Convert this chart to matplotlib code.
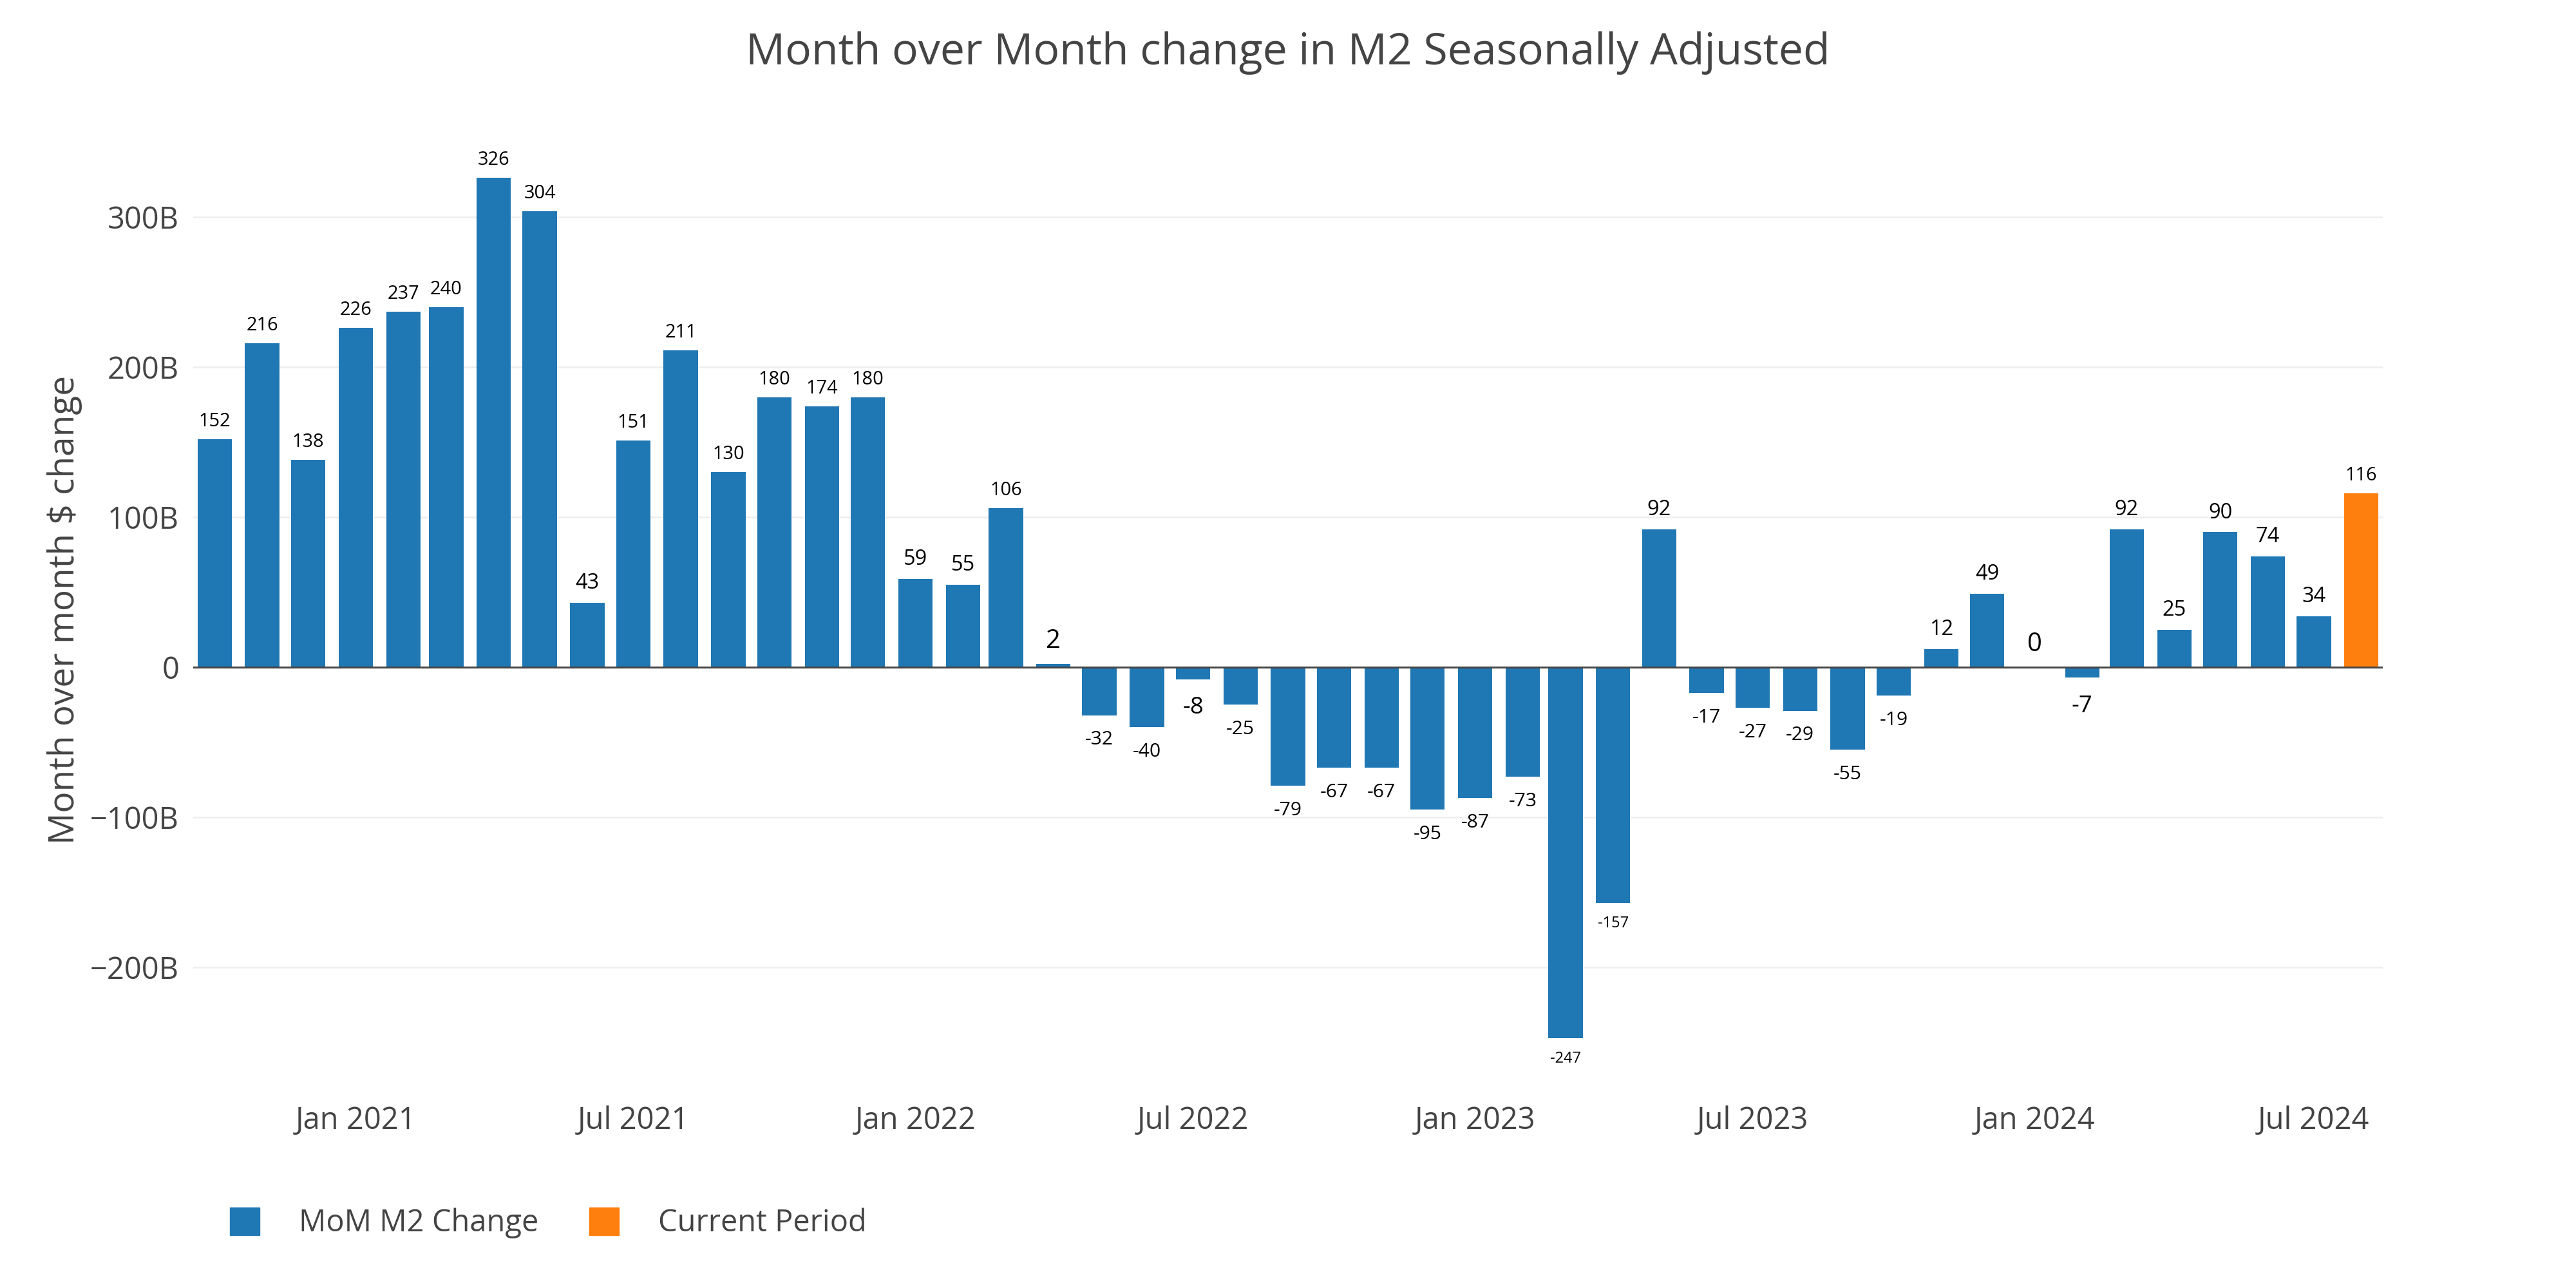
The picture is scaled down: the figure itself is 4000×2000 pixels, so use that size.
import matplotlib
matplotlib.use("Agg")
import matplotlib.pyplot as plt
import matplotlib.dates as mdates
import matplotlib.ticker as mticker
from matplotlib.patches import Patch
import pandas as pd

DPI = 100
W, H = 4000, 2000

# monthly change of M2 (billions of dollars), Oct 2020 .. Aug 2024
months = pd.date_range("2020-10-01", "2024-08-01", freq="MS")
mom_change = [152, 216, 138, 226, 237, 240, 326, 304, 43, 151, 211, 130,
              180, 174, 180, 59, 55, 106, 2, -32, -40, -8, -25, -79,
              -67, -67, -95, -87, -73, -247, -157, 92, -17, -27, -29, -55,
              -19, 12, 49, 0, -7, 92, 25, 90, 74, 34, 116]
series_names = ["MoM M2 Change", "Current Period"]
y_ticks = [-200, -100, 0, 100, 200, 300]

BLUE = "#1f77b4"
ORANGE = "#ff7f0e"
GREY = "#444444"

# label font size (px) by (has minus, number of digits): plotly shrinks
# outside text when it gets wide for the bar
LABEL_PX = {(False, 1): 40, (False, 2): 32.5, (False, 3): 29,
            (True, 1): 36.5, (True, 2): 30, (True, 3): 23.5}


def px(v):
    # pixels -> points
    return v * 72 / DPI


plt.rcParams["font.family"] = ["Open Sans", "DejaVu Sans"]

fig = plt.figure(figsize=(W / DPI, H / DPI), dpi=DPI)
fig.patch.set_facecolor("white")

left, right, top, bottom = 300, 3700, 170, 1690
ax = fig.add_axes([left / W, 1 - bottom / H, (right - left) / W, (bottom - top) / H])

zero_y = 1036
per100 = 233
ax.set_ylim(-(bottom - zero_y) / per100 * 100, (zero_y - top) / per100 * 100)
ax.set_xlim(months[0] - pd.Timedelta(days=14), months[-1] + pd.Timedelta(days=14))

bar_width = 22.4  # days (plotly uses 0.8 of the shortest month gap)
ax.bar(months[:-1], mom_change[:-1], width=bar_width, color=BLUE,
       label=series_names[0], zorder=2)
ax.bar(months[-1:], mom_change[-1:], width=bar_width, color=ORANGE,
       label=series_names[1], zorder=2)

for d, v in zip(months, mom_change):
    txt = str(v)
    fs = LABEL_PX[(v < 0, len(str(abs(v))))]
    if v >= 0:
        off = 7 + 0.45 * fs
    else:
        off = -(11 + 1.164 * fs)
    ax.annotate(txt, (d, v), xytext=(0, off), textcoords="offset pixels",
                ha="center", va="baseline", fontsize=px(fs), color="black",
                zorder=4)

ax.axhline(0, color=GREY, lw=px(3), zorder=3)
ax.set_yticks(y_ticks)
ax.yaxis.set_major_formatter(mticker.FuncFormatter(
    lambda v, p: "0" if v == 0 else f"{int(v)}B".replace("-", "\u2212")))
ax.yaxis.grid(True, color="#eeeeee", lw=px(2.5))
ax.set_axisbelow(True)

ax.xaxis.set_major_locator(mdates.MonthLocator(bymonth=[1, 7]))
ax.xaxis.set_major_formatter(mdates.DateFormatter("%b %Y"))

ax.tick_params(axis="both", length=0, labelsize=px(47), labelcolor=GREY)
ax.tick_params(axis="y", pad=px(22))
ax.tick_params(axis="x", pad=px(26))
for s in ax.spines.values():
    s.set_visible(False)

ax.set_ylabel("Month over month $ change", fontsize=px(55), color=GREY)
ax.yaxis.set_label_coords((128 - left) / (right - left), (bottom - 947) / (bottom - top))

fig.text(0.5, 1 - 100 / H, "Month over Month change in M2 Seasonally Adjusted",
         ha="center", va="baseline", fontsize=px(68), color=GREY)

handles = [Patch(color=BLUE, label=series_names[0]),
           Patch(color=ORANGE, label=series_names[1])]
fig.legend(handles=handles, loc="center left",
           bbox_to_anchor=(357 / W, 1 - 1899 / H), ncol=2, frameon=False,
           fontsize=px(47), handlelength=46 / 47, handleheight=48 / 47,
           handletextpad=61 / 47, columnspacing=79 / 47, borderpad=0,
           borderaxespad=0, labelcolor=GREY)

fig.savefig("out.png", dpi=DPI)
plt.close(fig)
